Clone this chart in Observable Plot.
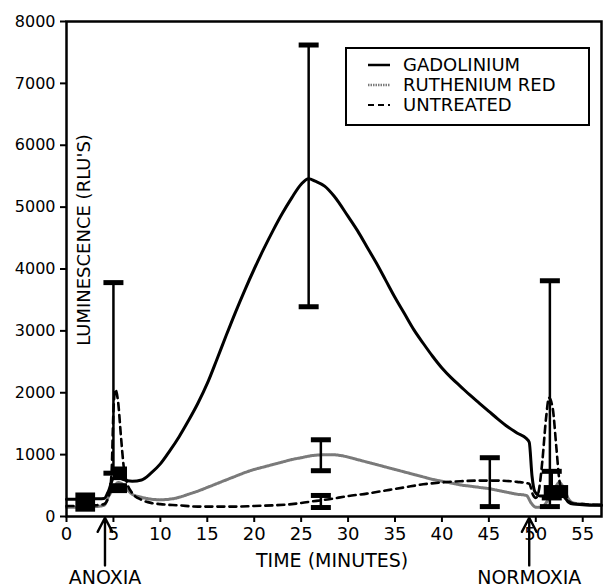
<!DOCTYPE html>
<html>
<head>
<meta charset="utf-8">
<script src="https://cdn.jsdelivr.net/npm/d3@7"></script>
<script src="https://cdn.jsdelivr.net/npm/@observablehq/plot@0.6"></script>
<style>
  body { margin: 0; background: #fff; font-family: "DejaVu Sans", sans-serif; }
  #wrap { position: relative; width: 603px; height: 587px; }
  #legend { position: absolute; left: 345px; top: 47px; width: 245px; height: 79px;
    border: 2px solid #000; box-sizing: border-box; background: #fff; padding: 6px 0 0 21px;
    font-family: "DejaVu Sans", sans-serif; font-size: 18px; line-height: 20px; color: #000; }
  #legend div { display: flex; align-items: center; height: 20px; white-space: nowrap; }
  #legend svg { width: 22px; height: 10px; margin-right: 13px; flex: none; }
</style>
</head>
<body>
<div id="wrap"></div>
<script>
// ---- data ----
const gadT = [0, 1, 2, 3, 4, 4.5, 5, 5.5, 6, 7, 8, 9, 10, 11, 12, 13, 14, 15, 16, 17, 18, 19, 20, 21, 22, 23, 24, 25, 25.8, 26.5, 27.5, 28.5, 30, 31, 32, 33, 34, 35, 36, 37, 38, 39, 40, 41, 42, 43, 44, 45, 46, 47, 48, 49, 49.3, 49.6, 49.9, 50.5, 51, 52, 53, 53.5, 54, 55, 56, 57];
const gadV = [280, 280, 280, 285, 290, 420, 620, 640, 600, 570, 590, 700, 850, 1060, 1290, 1550, 1830, 2150, 2530, 2920, 3300, 3660, 4000, 4320, 4620, 4900, 5150, 5370, 5460, 5420, 5340, 5180, 4850, 4620, 4360, 4100, 3820, 3540, 3280, 3020, 2800, 2590, 2400, 2240, 2100, 1960, 1830, 1700, 1570, 1450, 1350, 1260, 1200, 650, 400, 330, 330, 370, 320, 230, 200, 190, 180, 180];

const rutT = [0, 1, 2, 3, 4, 4.5, 5, 5.5, 6, 6.5, 7, 8, 9, 10, 11, 12, 13, 14, 15, 16, 17, 18, 19, 20, 21, 22, 23, 24, 25, 26, 27, 28, 29, 30, 31, 32, 33, 34, 35, 36, 37, 38, 39, 40, 41, 42, 43, 44, 45, 46, 47, 48, 49, 49.5, 50, 50.5, 51, 51.5, 52, 52.5, 53, 53.5, 54, 55, 56, 57];
const rutV = [150, 150, 160, 160, 180, 330, 450, 550, 520, 430, 360, 310, 280, 270, 280, 310, 360, 410, 470, 530, 590, 650, 710, 760, 800, 840, 880, 920, 950, 980, 995, 1000, 990, 960, 920, 880, 840, 800, 760, 720, 680, 640, 600, 570, 540, 510, 490, 470, 450, 420, 390, 360, 340, 220, 150, 150, 200, 330, 450, 550, 450, 280, 220, 200, 190, 180];

const untT = [0, 1, 2, 3, 4, 4.5, 4.8, 5.0, 5.2, 5.5, 5.8, 6.1, 6.5, 7, 8, 9, 10, 12, 14, 16, 18, 20, 22, 24, 26, 28, 30, 32, 34, 36, 38, 40, 42, 44, 46, 48, 49.3, 49.7, 50, 50.3, 50.7, 51.1, 51.4, 51.8, 52.2, 52.5, 53, 53.5, 54, 55, 56, 57];
const untV = [170, 170, 170, 180, 200, 330, 700, 1700, 2050, 1850, 1300, 800, 520, 380, 270, 220, 200, 180, 160, 160, 160, 170, 180, 200, 240, 280, 330, 370, 420, 470, 520, 550, 570, 580, 580, 560, 530, 350, 300, 400, 900, 1600, 1920, 1750, 1100, 600, 330, 250, 210, 200, 190, 190];

// error bars (time, low, high)
const errT  = [5.0, 25.8, 27.1, 27.1, 45.1, 51.5, 51.7];
const errLo = [700, 3390, 740, 145, 160, 160, 300];
const errHi = [3780, 7620, 1240, 340, 950, 3810, 730];

// overlapping caps that read as solid blocks (time from, time to, low, high)
const blkT1 = [1.0, 5.0, 4.6, 50.9];
const blkT2 = [3.1, 6.5, 6.5, 53.5];
const blkLo = [70, 580, 370, 290];
const blkHi = [380, 800, 530, 500];

// events
const eventT = [4.1, 49.3];
const eventLabel = ["ANOXIA", "NORMOXIA"];

const xTicks = d3.range(0, 56, 5);
const yTicks = d3.range(0, 8001, 1000);

// ---- build tables ----
const zip = (T, V) => T.map((t, i) => ({t, v: V[i]}));
const gad = zip(gadT, gadV);
const rut = zip(rutT, rutV);
const unt = zip(untT, untV);
const errs = errT.map((t, i) => ({t, lo: errLo[i], hi: errHi[i]}));
const errCaps = errs.flatMap(d => [{t: d.t, v: d.lo}, {t: d.t, v: d.hi}]);
const blocks = blkT1.map((t1, i) => ({t1, t2: blkT2[i], lo: blkLo[i], hi: blkHi[i]}));
const events = eventT.map((t, i) => ({t, label: eventLabel[i]}));

const capSymbol = { draw(ctx) { ctx.moveTo(-10, 0); ctx.lineTo(10, 0); } };

const chart = Plot.plot({
  width: 603,
  height: 587,
  marginTop: 21,
  marginBottom: 71,
  marginLeft: 66,
  marginRight: 2,
  style: { fontFamily: "DejaVu Sans, sans-serif", color: "#000", background: "#fff", overflow: "visible" },
  x: { domain: [0, 57] },
  y: { domain: [0, 8000] },
  marks: [
    Plot.axisY({ ticks: yTicks, tickFormat: d3.format("d"), tickSize: 6, tickPadding: 5, fontSize: 16, label: null, strokeWidth: 2 }),
    Plot.axisX({ ticks: xTicks, tickFormat: d3.format("d"), tickSize: 6, tickPadding: 5, fontSize: 18, label: null, strokeWidth: 2 }),
    Plot.text(["LUMINESCENCE (RLU'S)"], { frameAnchor: "left", textAnchor: "middle", rotate: -90, dx: 18, dy: -29, fontSize: 18, fill: "#000" }),
    Plot.text(["TIME (MINUTES)"], { frameAnchor: "bottom", x: 28.3, dy: 44, fontSize: 19, lineAnchor: "middle", fill: "#000" }),
    Plot.line(rut, { x: "t", y: "v", stroke: "#7a7a7a", strokeWidth: 3, strokeDasharray: "1.5,1", curve: "monotone-x" }),
    Plot.line(unt, { x: "t", y: "v", stroke: "#000", strokeWidth: 2.6, strokeDasharray: "7,5", curve: "monotone-x" }),
    Plot.line(gad, { x: "t", y: "v", stroke: "#000", strokeWidth: 3, curve: "monotone-x" }),
    Plot.rect(blocks, { x1: "t1", x2: "t2", y1: "lo", y2: "hi", fill: "#000" }),
    Plot.ruleX(errs, { x: "t", y1: "lo", y2: "hi", stroke: "#000", strokeWidth: 2.5 }),
    Plot.dot(errCaps, { x: "t", y: "v", symbol: capSymbol, stroke: "#000", fill: "none", strokeWidth: 5, r: 10 }),
    Plot.frame({ stroke: "#000", strokeWidth: 2.5 }),
    Plot.arrow(events, { x1: "t", x2: "t", y1: -790, y2: -20, stroke: "#000", strokeWidth: 2.4, headLength: 16, headAngle: 55, clip: false }),
    Plot.text(events, { x: "t", text: "label", frameAnchor: "bottom", dy: 61, fontSize: 19, lineAnchor: "middle", fill: "#000" })
  ]
});

const wrap = document.getElementById("wrap");
wrap.appendChild(chart);

const legendItems = [
  { label: "GADOLINIUM", stroke: "#000", dash: null, w: 2.5 },
  { label: "RUTHENIUM RED", stroke: "#7a7a7a", dash: "1.5,1", w: 2.5 },
  { label: "UNTREATED", stroke: "#000", dash: "6,4", w: 2 }
];
const legend = document.createElement("div");
legend.id = "legend";
legend.innerHTML = legendItems.map(d =>
  `<div><svg viewBox="0 0 22 10"><line x1="0" x2="22" y1="5" y2="5" stroke="${d.stroke}" stroke-width="${d.w}" ${d.dash ? `stroke-dasharray="${d.dash}"` : ""}/></svg><span>${d.label}</span></div>`
).join("");
wrap.appendChild(legend);
</script>
</body>
</html>
